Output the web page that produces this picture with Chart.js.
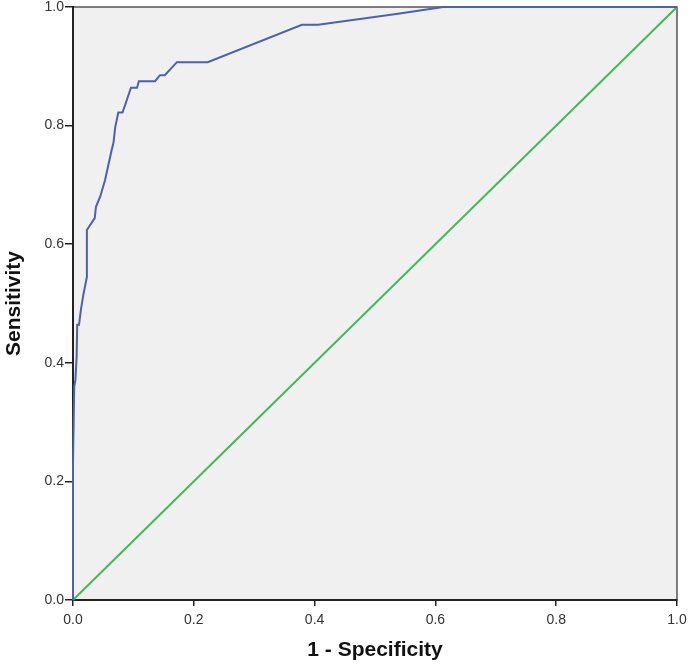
<!DOCTYPE html>
<html>
<head>
<meta charset="utf-8">
<script src="https://cdn.jsdelivr.net/npm/chart.js@4"></script>
<style>
  html, body { margin: 0; padding: 0; background: #ffffff; }
  #wrap { width: 700px; height: 667px; }
</style>
</head>
<body>
<div id="wrap"><canvas id="roc"></canvas></div>
<script>
// ROC curve (1 - specificity, sensitivity)
const fprValues = [0, 0, 0.002, 0.004, 0.006, 0.007, 0.010, 0.013, 0.017, 0.023, 0.023,
    0.036, 0.038, 0.045, 0.053, 0.064, 0.067, 0.070, 0.075, 0.082, 0.096, 0.106, 0.109,
    0.136, 0.144, 0.152, 0.172, 0.223, 0.379, 0.406, 0.541, 0.613, 1.0];
const tprValues = [0, 0.231, 0.360, 0.371, 0.410, 0.464, 0.464, 0.489, 0.514, 0.545, 0.624,
    0.644, 0.663, 0.680, 0.708, 0.759, 0.771, 0.798, 0.822, 0.822, 0.864, 0.864, 0.875,
    0.875, 0.885, 0.885, 0.907, 0.907, 0.970, 0.970, 0.989, 1.0, 1.0];

// reference line
const refX = [0, 1];
const refY = [0, 1];

const tickValues = [0, 0.2, 0.4, 0.6, 0.8, 1.0];

const toPoints = (xs, ys) => xs.map((x, i) => ({ x: x, y: ys[i] }));

// grey plot background + frame
const plotFrame = {
    id: 'plotFrame',
    beforeDraw(chart) {
        const { ctx, chartArea: a } = chart;
        ctx.save();
        ctx.fillStyle = '#f0f0f0';
        ctx.fillRect(a.left, a.top, a.right - a.left, a.bottom - a.top);
        ctx.strokeStyle = '#555555';
        ctx.lineWidth = 1.5;
        ctx.strokeRect(a.left, a.top, a.right - a.left, a.bottom - a.top);
        ctx.restore();
    }
};

const tickFont = { family: 'Liberation Sans', size: 14 };
const titleFont = { family: 'Liberation Sans', size: 21, weight: 'bold' };

new Chart(document.getElementById('roc'), {
    type: 'scatter',
    data: {
        datasets: [
            {
                label: 'ROC',
                data: toPoints(fprValues, tprValues),
                showLine: true,
                borderColor: '#4a62ad',
                borderWidth: 2,
                pointRadius: 0,
                tension: 0
            },
            {
                label: 'Reference',
                data: toPoints(refX, refY),
                showLine: true,
                borderColor: '#45b957',
                borderWidth: 2,
                pointRadius: 0
            }
        ]
    },
    options: {
        responsive: true,
        maintainAspectRatio: false,
        animation: false,
        clip: false,
        layout: { padding: { top: 7, right: 23, left: 0, bottom: 0 } },
        plugins: {
            legend: { display: false },
            tooltip: { enabled: false }
        },
        scales: {
            x: {
                type: 'linear',
                min: 0,
                max: 1,
                afterBuildTicks: s => { s.ticks = tickValues.map(v => ({ value: v })); },
                afterFit: s => { s.height = 67; s.paddingLeft = 0; s.paddingRight = 0; },
                ticks: {
                    color: '#333333',
                    font: tickFont,
                    padding: 6,
                    maxRotation: 0,
                    callback: v => v.toFixed(1)
                },
                grid: { drawOnChartArea: false, tickLength: 6, color: '#222222', lineWidth: 1.5 },
                border: { color: '#222222', width: 2 },
                title: { display: true, text: '1 - Specificity', color: '#111111', font: titleFont, padding: { top: 4, bottom: 4 } }
            },
            y: {
                type: 'linear',
                min: 0,
                max: 1,
                afterBuildTicks: s => { s.ticks = tickValues.map(v => ({ value: v })); },
                afterFit: s => { s.width = 73; s.paddingTop = 0; s.paddingBottom = 0; },
                ticks: {
                    color: '#333333',
                    font: tickFont,
                    padding: 1,
                    callback: v => v.toFixed(1)
                },
                grid: { drawOnChartArea: false, tickLength: 8, color: '#222222', lineWidth: 1.5 },
                border: { color: '#222222', width: 2 },
                title: { display: true, text: 'Sensitivity', color: '#111111', font: titleFont, padding: { top: 2, bottom: 0 } }
            }
        }
    },
    plugins: [plotFrame]
});
</script>
</body>
</html>
